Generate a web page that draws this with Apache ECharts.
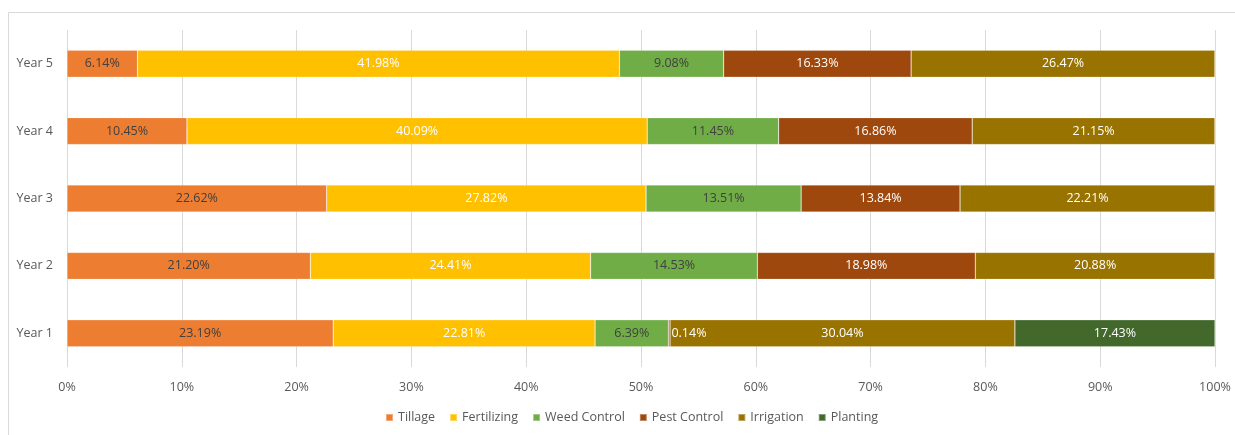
<!DOCTYPE html>
<html>
<head>
<meta charset="utf-8">
<script src="https://cdn.jsdelivr.net/npm/echarts@6/dist/echarts.min.js"></script>
<style>
html,body{margin:0;padding:0;background:#fff;}
#chart{width:1235px;height:435px;}
</style>
</head>
<body>
<div id="chart"></div>
<script>
const categories = ['Year 1', 'Year 2', 'Year 3', 'Year 4', 'Year 5'];
const seriesNames = ['Tillage', 'Fertilizing', 'Weed Control', 'Pest Control', 'Irrigation', 'Planting'];
const tillage     = [23.19, 21.20, 22.62, 10.45, 6.14];
const fertilizing = [22.81, 24.41, 27.82, 40.09, 41.98];
const weedControl = [6.39, 14.53, 13.51, 11.45, 9.08];
const pestControl = [0.14, 18.98, 13.84, 16.86, 16.33];
const irrigation  = [30.04, 20.88, 22.21, 21.15, 26.47];
const planting    = [17.43, 0, 0, 0, 0];
const xTicks = [0, 10, 20, 30, 40, 50, 60, 70, 80, 90, 100];

const colors = ['#ED7D31', '#FFC000', '#70AD47', '#9E480E', '#997300', '#43682B'];
const labelColors = ['#404040', '#ffffff', '#404040', '#ffffff', '#ffffff', '#ffffff'];
const values = [tillage, fertilizing, weedControl, pestControl, irrigation, planting];
const FONT = '"Open Sans", "Liberation Sans", sans-serif';

const series = seriesNames.map((name, i) => ({
  name: name,
  type: 'bar',
  stack: 'total',
  barWidth: '40%',
  itemStyle: { color: colors[i], borderColor: 'rgba(255,255,255,0.35)', borderWidth: 0.6 },
  label: {
    show: true,
    position: 'inside',
    color: labelColors[i],
    fontFamily: FONT,
    fontSize: 12.5,
    formatter: p => p.value > 0 ? p.value.toFixed(2) + '%' : ''
  },
  data: values[i].map((v, j) => {
    if (v < 1 && v > 0) {
      return { value: v, label: { position: 'insideLeft', offset: [-2, 0] } };
    }
    return v;
  })
}));

const chart = echarts.init(document.getElementById('chart'), null, { renderer: 'canvas' });
chart.setOption({
  animation: false,
  color: colors,
  graphic: [{
    type: 'rect',
    shape: { x: 8.5, y: 12.5, width: 1300, height: 500 },
    style: { fill: 'none', stroke: '#d9d9d9', lineWidth: 1 },
    silent: true,
    z: -1
  }],
  grid: { left: 67, right: 20, top: 30, bottom: 68 },
  legend: {
    bottom: 6,
    left: 380,
    itemWidth: 7,
    itemHeight: 7,
    itemGap: 14,
    icon: 'rect',
    textStyle: { color: '#595959', fontSize: 12.5, fontFamily: FONT },
    data: seriesNames
  },
  xAxis: {
    type: 'value',
    min: 0,
    max: 100,
    interval: 10,
    axisLine: { show: false },
    axisTick: { show: false },
    splitLine: { show: true, lineStyle: { color: '#d9d9d9', width: 1 } },
    axisLabel: {
      color: '#595959',
      fontSize: 12.5,
      fontFamily: FONT,
      margin: 14,
      formatter: v => xTicks.includes(v) ? v + '%' : ''
    }
  },
  yAxis: {
    type: 'category',
    data: categories,
    axisLine: { show: false },
    axisTick: { show: false },
    axisLabel: { color: '#595959', fontSize: 12.5, fontFamily: FONT, margin: 14 }
  },
  series: series
});
</script>
</body>
</html>
